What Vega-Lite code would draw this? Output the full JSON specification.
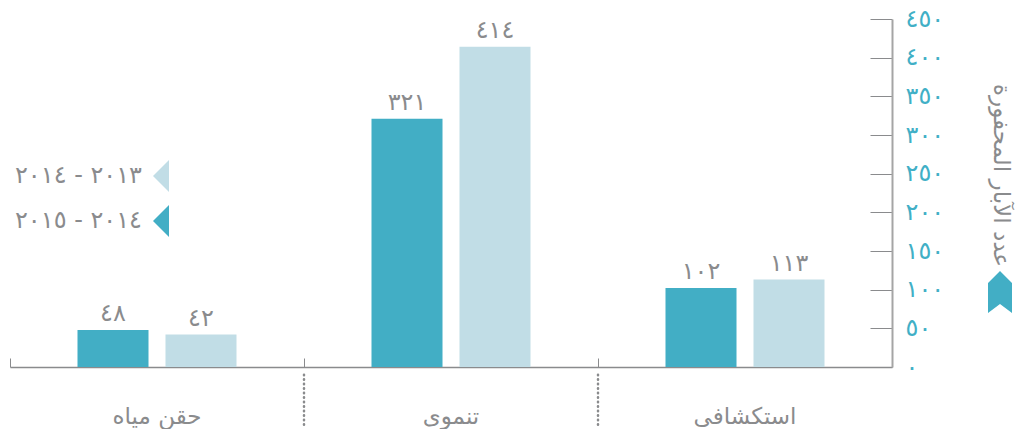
{
"$schema":"https://vega.github.io/schema/vega-lite/v6.json",
"width":882,"height":348,
"autosize":{"type":"none"},
"padding":{"left":10,"top":19,"right":124,"bottom":62},
"background":"white",
"data":{"values":[
{"category":"حقن مياه","period":"٢٠١٤ - ٢٠١٥","value":48,"label":"٤٨"},
{"category":"حقن مياه","period":"٢٠١٣ - ٢٠١٤","value":42,"label":"٤٢"},
{"category":"تنموى","period":"٢٠١٤ - ٢٠١٥","value":321,"label":"٣٢١"},
{"category":"تنموى","period":"٢٠١٣ - ٢٠١٤","value":414,"label":"٤١٤"},
{"category":"استكشافى","period":"٢٠١٤ - ٢٠١٥","value":102,"label":"١٠٢"},
{"category":"استكشافى","period":"٢٠١٣ - ٢٠١٤","value":113,"label":"١١٣"}
]},
"encoding":{
"x":{"field":"category","type":"nominal","sort":["حقن مياه","تنموى","استكشافى"],
"scale":{"paddingInner":0,"paddingOuter":0},
"axis":{"title":null,"labelAngle":0,"domainColor":"#8a8b8d","domainWidth":1.5,"tickColor":"#8a8b8d","tickSize":-9,"tickWidth":1,"bandPosition":0,"labelFontSize":23,"labelFont":"DejaVu Sans","labelColor":"#8a8b8d","labelPadding":58,"labelBaseline":"middle","grid":false}},
"y":{"field":"value","type":"quantitative","scale":{"domain":[0,450]},
"axis":{"orient":"right","values":[0,50,100,150,200,250,300,350,400,450],"labelOverlap":false,"grid":false,"tickSize":-22,"tickColor":"#8a8b8d","domainColor":"#a5a5a5","domainWidth":2,"labelAlign":"left","labelPadding":35,"labelFontSize":24,"labelFont":"DejaVu Sans","labelColor":"#41afc6",
"labelExpr":"replace(replace(replace(replace(replace(replace(datum.label,/0/g,'٠'),/1/g,'١'),/2/g,'٢'),/3/g,'٣'),/4/g,'٤'),/5/g,'٥')",
"title":"عدد الآبار المحفورة","titleAngle":90,"titleFont":"DejaVu Sans","titleFontSize":23,"titleFontWeight":"normal","titleColor":"#8a8b8d","titleX":108,"titleY":156,"titleAlign":"center","titleBaseline":"middle"}}
},
"layer":[
{"mark":{"type":"bar"},
"encoding":{
"xOffset":{"field":"period","type":"nominal","sort":["٢٠١٤ - ٢٠١٥","٢٠١٣ - ٢٠١٤"],"scale":{"paddingInner":0.193,"paddingOuter":0.767}},
"color":{"field":"period","type":"nominal","sort":["٢٠١٣ - ٢٠١٤","٢٠١٤ - ٢٠١٥"],"scale":{"range":["#c1dde6","#42aec5"]},
"legend":{"orient":"none","legendX":127,"legendY":141,"title":null,"symbolType":"M1,-1L1,1L0,0Z","symbolSize":1024,"symbolOpacity":1,"symbolStrokeWidth":0,"labelAlign":"right","labelOffset":-27,"labelFont":"DejaVu Sans","labelFontSize":24,"labelColor":"#8a8b8d","rowPadding":13,"labelLimit":200}}
}},
{"mark":{"type":"text","dy":-16,"font":"DejaVu Sans","fontSize":24,"color":"#8a8b8d"},
"encoding":{
"xOffset":{"field":"period","type":"nominal","sort":["٢٠١٤ - ٢٠١٥","٢٠١٣ - ٢٠١٤"],"scale":{"paddingInner":0.193,"paddingOuter":0.767}},
"text":{"field":"label","type":"nominal"}
}},
{"data":{"values":[{"category":"تنموى","low":-10,"high":-75},{"category":"استكشافى","low":-10,"high":-75}]},
"mark":{"type":"rule","color":"#8a8b8d","strokeWidth":2.5,"strokeDash":[0.5,4],"strokeCap":"round","clip":false},
"encoding":{
"x":{"field":"category","type":"nominal","bandPosition":0,"sort":["حقن مياه","تنموى","استكشافى"]},
"y":{"field":"low","type":"quantitative"},
"y2":{"field":"high"}
}},
{"data":{"values":[{"category":"تنموى","icon":"الآبار","value":0}]},
"mark":{"type":"point","opacity":0,"filled":true,"color":"#42aec5"},
"encoding":{
"shape":{"field":"icon","type":"nominal","scale":{"range":["M-1,-0.75L0,-1.75L1,-0.75L1,1.75L0,1L-1,1.75Z"]},
"legend":{"orient":"none","legendX":978,"legendY":261,"title":null,"symbolSize":576,"symbolFillColor":"#42aec5","symbolStrokeWidth":0,"symbolOpacity":1,"labelExpr":"''"}}
}}
],
"config":{"view":{"stroke":null}}
}
